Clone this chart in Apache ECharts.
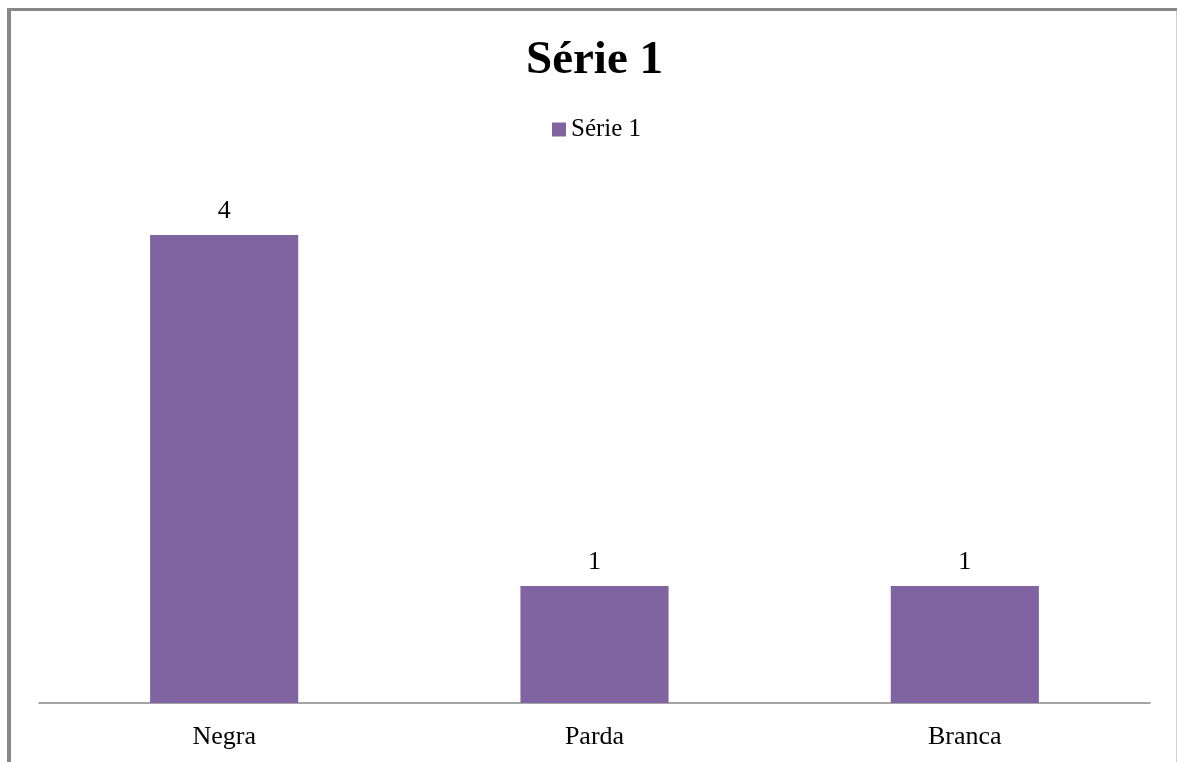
<!DOCTYPE html>
<html>
<head>
<meta charset="utf-8">
<script src="https://cdn.jsdelivr.net/npm/echarts@6/dist/echarts.min.js"></script>
<style>
html,body{margin:0;padding:0;background:#fff;}
#chart{width:1177px;height:762px;}
</style>
</head>
<body>
<div id="chart"></div>
<script>
var categories = ['Negra', 'Parda', 'Branca'];
var serie1 = [4, 1, 1];
var chart = echarts.init(document.getElementById('chart'));
var font = '"Liberation Serif", "Times New Roman", serif';

var option = {
	backgroundColor: '#fff',
	animation: false,
	title: {
		text: 'Série 1',
		left: 521,
		top: 32,
		textStyle: {fontFamily: font, fontSize: 47, fontWeight: 'bold', color: '#000'}
	},
	legend: {
		data: ['Série 1'],
		top: 112,
		left: 547,
		icon: 'rect',
		itemWidth: 14,
		itemHeight: 14,
		textStyle: {fontFamily: font, fontSize: 25, color: '#000'}
	},
	grid: {left: 39, right: 27, top: 176.5, bottom: 59},
	xAxis: {
		type: 'category',
		data: categories,
		axisLine: {lineStyle: {color: '#888', width: 1.5}},
		axisTick: {show: false},
		axisLabel: {fontFamily: font, fontSize: 26, color: '#000', margin: 21}
	},
	yAxis: {
		type: 'value',
		min: 0,
		max: 4.5,
		show: false
	},
	series: [{
		name: 'Série 1',
		type: 'bar',
		data: serie1,
		barWidth: '40%',
		itemStyle: {color: '#8064A2'},
		label: {
			show: true,
			position: 'top',
			distance: 11,
			fontFamily: font,
			fontSize: 26,
			color: '#000'
		}
	}],
	graphic: [
		{type: 'rect', shape: {x: 7, y: 8, width: 1170, height: 3}, style: {fill: '#878787'}},
		{type: 'rect', shape: {x: 7, y: 8, width: 4, height: 754}, style: {fill: '#878787'}},
		{type: 'rect', shape: {x: 1176, y: 11, width: 1, height: 751}, style: {fill: '#d0d0d0'}}
	]
};
chart.setOption(option);
</script>
</body>
</html>
